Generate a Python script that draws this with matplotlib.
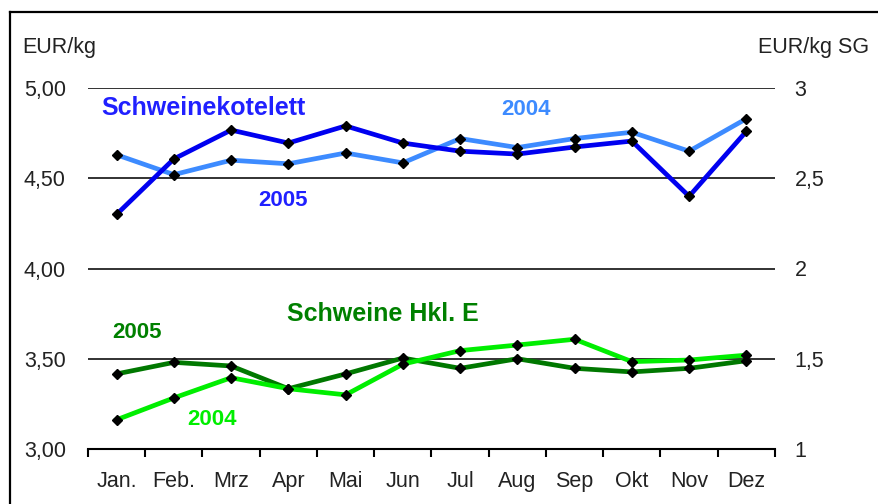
import matplotlib
matplotlib.use("Agg")
import matplotlib.pyplot as plt
from matplotlib.lines import Line2D

plt.rcParams['font.family'] = ['Liberation Sans', 'DejaVu Sans']

months = ["Jan.", "Feb.", "Mrz", "Apr", "Mai", "Jun", "Jul", "Aug", "Sep", "Okt", "Nov", "Dez"]
# Schweinekotelett, EUR/kg (left axis)
kotelett_2004 = [4.63, 4.52, 4.60, 4.58, 4.64, 4.585, 4.72, 4.67, 4.72, 4.755, 4.65, 4.83]
kotelett_2005 = [4.30, 4.607, 4.767, 4.695, 4.79, 4.695, 4.65, 4.634, 4.673, 4.706, 4.40, 4.76]
# Schweine Hkl. E, EUR/kg SG (right axis)
hkl_2004 = [1.162, 1.283, 1.395, 1.334, 1.30, 1.47, 1.545, 1.576, 1.608, 1.484, 1.493, 1.52]
hkl_2005 = [1.416, 1.48, 1.46, 1.334, 1.416, 1.504, 1.447, 1.50, 1.447, 1.427, 1.447, 1.489]
left_ticks = [3.0, 3.5, 4.0, 4.5, 5.0]
right_ticks = [1.0, 1.5, 2.0, 2.5, 3.0]

W, H = 879, 504
fig = plt.figure(figsize=(W / 100, H / 100), dpi=100)
ax = fig.add_axes([88 / W, 1 - 449 / H, 687 / W, 361 / H])
ax2 = ax.twinx()

x = list(range(len(months)))
mk = dict(marker='D', markersize=4.8, markerfacecolor='black', markeredgecolor='black')
ax.plot(x, kotelett_2004, color='#3d8bff', lw=3.4, zorder=3, **mk)
ax.plot(x, kotelett_2005, color='#0000f0', lw=3.4, zorder=4, **mk)
ax2.plot(x, hkl_2005, color='#007800', lw=3.4, zorder=3, **mk)
ax2.plot(x, hkl_2004, color='#00ee00', lw=3.4, zorder=4, **mk)

ax.set_xlim(-0.5, len(months) - 0.5)
ax.set_ylim(3, 5)
ax2.set_ylim(1, 3)
for a in (ax, ax2):
    for s in ('left', 'right', 'top'):
        a.spines[s].set_visible(False)
ax2.spines['bottom'].set_visible(False)
ax.spines['bottom'].set_linewidth(1.5)

tfs = 15.5
ax.set_yticks(left_ticks)
ax.set_yticklabels([f"{v:.2f}".replace('.', ',') for v in left_ticks])
ax2.set_yticks(right_ticks)
ax2.set_yticklabels([f"{v:g}".replace('.', ',') for v in right_ticks])
ax.tick_params(axis='y', length=0, pad=16, labelsize=tfs, labelcolor='#222222')
ax2.tick_params(axis='y', length=0, pad=14, labelsize=tfs, labelcolor='#222222')
ax.yaxis.grid(True, color='#222222', lw=1.3)
ax.set_axisbelow(True)

ax.set_xticks([i - 0.5 for i in range(len(months) + 1)])
ax.set_xticklabels([])
ax.set_xticks(x, minor=True)
ax.set_xticklabels(months, minor=True)
ax.tick_params(axis='x', which='major', direction='out', length=6, width=1.5)
ax.tick_params(axis='x', which='minor', length=0, pad=16, labelsize=tfs, labelcolor='#222222')

nfs = 18
yfs = 16
ax.text(1.51, 4.89, "Schweinekotelett", color='#2020ff', fontsize=nfs, fontweight='bold', ha='center', va='center')
ax.text(2.91, 4.374, "2005", color='#2020ff', fontsize=yfs, fontweight='bold', ha='center', va='center')
ax.text(7.15, 4.88, "2004", color='#3d8bff', fontsize=yfs, fontweight='bold', ha='center', va='center')
ax2.text(4.65, 1.748, "Schweine Hkl. E", color='#008000', fontsize=nfs, fontweight='bold', ha='center', va='center')
ax2.text(0.36, 1.648, "2005", color='#008000', fontsize=yfs, fontweight='bold', ha='center', va='center')
ax2.text(1.67, 1.161, "2004", color='#00ee00', fontsize=yfs, fontweight='bold', ha='center', va='center')

fig.text(22 / W, 1 - 48 / H, "EUR/kg", fontsize=tfs, color='#222222', va='center', ha='left')
fig.text(758 / W, 1 - 47 / H, "EUR/kg SG", fontsize=tfs, color='#222222', va='center', ha='left')

# outer frame (cut at right and bottom)
fig.add_artist(Line2D([10 / W, 10 / W], [0, 1 - 12 / H], color='black', lw=1.6))
fig.add_artist(Line2D([10 / W, 1], [1 - 12 / H, 1 - 12 / H], color='black', lw=1.6))

fig.savefig("out.png", dpi=100)
